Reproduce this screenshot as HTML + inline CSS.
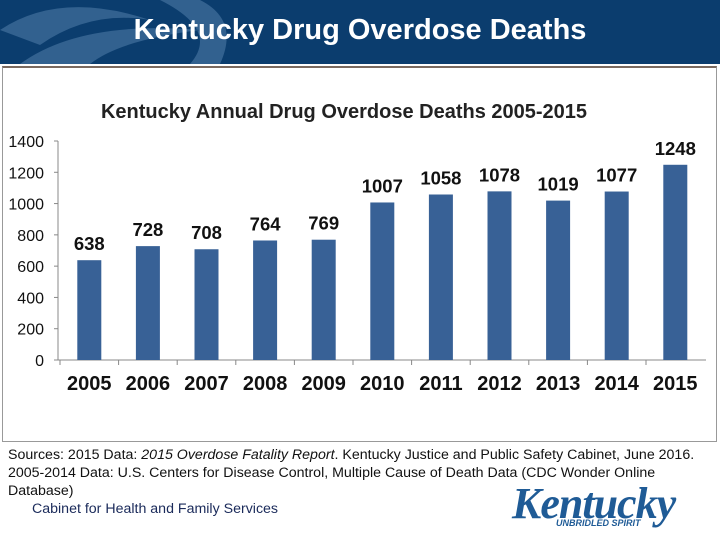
<!DOCTYPE html>
<html><head><meta charset="utf-8"><style>
body{margin:0;width:720px;height:540px;background:#fff;font-family:"Liberation Sans",sans-serif;position:relative;overflow:hidden}
#hdr{position:absolute;left:0;top:0;width:720px;height:64px;background:#0b3d6e}
#hdr h1{margin:0;position:absolute;left:0;width:720px;top:14px;text-align:center;color:#fff;font-size:29px;font-weight:bold}
#box{position:absolute;left:2px;top:66px;width:715px;height:376px;border:1px solid #999;box-sizing:border-box;border-top:2px solid #7a6a60}
.src{position:absolute;left:8px;font-size:14.2px;color:#111}
</style></head><body>
<div id="hdr">
<svg width="720" height="64" style="position:absolute;left:0;top:0"><path d="M0 30 Q60 -10 150 20 Q90 10 40 45 Z M20 64 Q80 20 200 30 Q120 40 90 64 Z M160 0 Q220 30 190 64 L220 64 Q240 20 200 0Z" fill="#5a86b0" opacity="0.5"/></svg>
<h1>Kentucky Drug Overdose Deaths</h1>
</div>
<div id="box"></div>
<svg id="chart" width="720" height="540" style="position:absolute;left:0;top:0"></svg>
<div class="src" style="top:447px">Sources: 2015 Data: <i>2015 Overdose Fatality Report</i>. Kentucky Justice and Public Safety Cabinet, June 2016.</div>
<div class="src" style="top:465px">2005-2014 Data: U.S. Centers for Disease Control, Multiple Cause of Death Data (CDC Wonder Online</div>
<div class="src" style="top:483px">Database)</div>
<div class="src" style="top:501px;left:32px;color:#1a2a5a">Cabinet for Health and Family Services</div>
<div style="position:absolute;left:512px;top:478px;font-size:44px;font-style:italic;font-weight:bold;color:#1f5b96;font-family:'Liberation Serif',serif;letter-spacing:-1px">Kentucky</div>
<div style="position:absolute;left:556px;top:518px;font-size:9px;font-style:italic;font-weight:bold;color:#1f5b96">UNBRIDLED SPIRIT</div>
<script>
const categories=["2005","2006","2007","2008","2009","2010","2011","2012","2013","2014","2015"];
const values=[638,728,708,764,769,1007,1058,1078,1019,1077,1248];
const yTicks=[0,200,400,600,800,1000,1200,1400];
const svg=document.getElementById('chart');const NS='http://www.w3.org/2000/svg';
const x0=60,step=58.6,y0=360,ppu=219/1400,bw=24;
const X=i=>x0+step*(i+0.5),Y=v=>y0-v*ppu;
function mk(t,a,txt){const e=document.createElementNS(NS,t);for(const k in a)e.setAttribute(k,a[k]);if(txt!=null)e.textContent=txt;svg.appendChild(e);return e;}
let t=mk('text',{x:344,y:118,'text-anchor':'middle','font-size':20,'font-weight':'bold',fill:'#222'},'Kentucky Annual Drug Overdose Deaths 2005-2015');


let ax=mk('line',{x1:58,y1:141,x2:58,y2:360,stroke:'#888'});


let bx=mk('line',{x1:58,y1:360,x2:706,y2:360,stroke:'#888'});


yTicks.forEach(v=>{mk('line',{x1:54,y1:Y(v),x2:58,y2:Y(v),stroke:'#888'});
let l=mk('text',{x:44,y:Y(v)+6,'text-anchor':'end','font-size':16,fill:'#111'},v);

});
categories.forEach((c,i)=>{
mk('line',{x1:x0+step*i,y1:360,x2:x0+step*i,y2:365,stroke:'#888'});
let b=mk('rect',{x:X(i)-bw/2,y:Y(values[i]),width:bw,height:values[i]*ppu,fill:'#386196'});


let v=mk('text',{x:X(i),y:Y(values[i])-10,'text-anchor':'middle','font-size':18.5,'font-weight':'bold',fill:'#111'},values[i]);


let xl=mk('text',{x:X(i),y:390,'text-anchor':'middle','font-size':20,'font-weight':'bold',fill:'#111'},c);


});
</script>
</body></html>
